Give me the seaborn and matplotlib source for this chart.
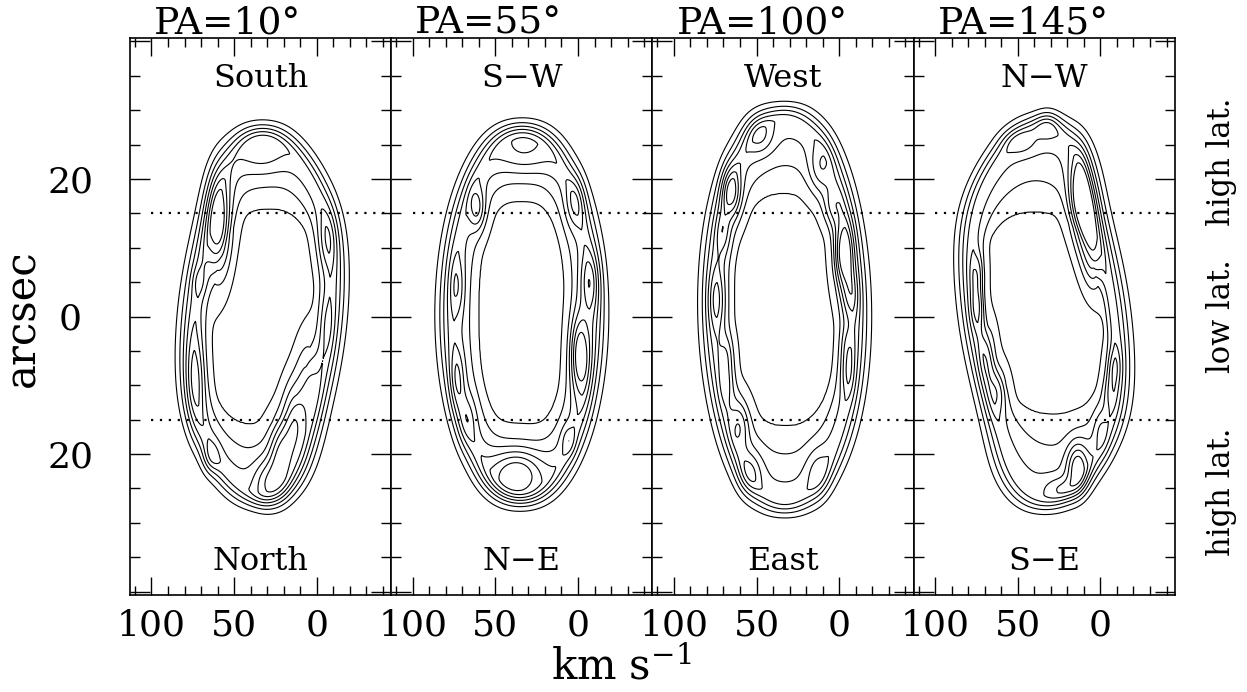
import numpy as np
import matplotlib
matplotlib.use("Agg")
import matplotlib.pyplot as plt
import seaborn as sns
import pandas as pd

# ---------------- data ----------------
pa_titles = ["PA=10°", "PA=55°", "PA=100°", "PA=145°"]
top_labels = ["South", "S\u2212W", "West", "N\u2212W"]
bottom_labels = ["North", "N\u2212E", "East", "S\u2212E"]
side_labels = ["high lat.", "low lat.", "high lat."]
side_label_y = [22.5, 0.0, -25.5]

x_major = [100, 50, 0]
x_major_labels = ["100", "50", "0"]
y_major = [-40, -20, 0, 20, 40]
y_major_labels = ["", "20", "0", "20", ""]
lat_bounds = [15, -15]
dotted_x = [100, -45]

contour_levels = [0.1, 0.2, 0.3, 0.4, 0.5, 0.6, 0.7]

# shell (ridge) of each position-velocity diagram
shell_v0 = [33, 34, 33, 34]          # km/s
shell_y0 = [0.0, 0.3, 1.0, 0.5]      # arcsec
shell_a = [40, 41, 41, 41]           # km/s
shell_b = [25.5, 25.5, 27.5, 26.5]   # arcsec
shell_shear = [-0.35, 0.0, 0.05, 0.5]
hole_a = [31, 26, 30.7, 35]
hole_b = [15.7, 16.8, 16.9, 14.7]
ridge_level = 0.46
hole_level = 0.2
floor_level = 0.14

# knots: (velocity, offset, amplitude, sigma_v, sigma_y)
knots_pa10 = [(33, 24, 0.16, 10, 2.5), (59, 13, 0.45, 5, 5), (73, -9, 0.22, 4, 4.5),
              (71, 5, 0.10, 3, 1.5), (-6, 11, 0.18, 4, 3), (-6, -1, 0.10, 3, 3),
              (14, -15, 0.35, 5, 4), (22, -20, 0.35, 5, 3.5), (30, -24, 0.25, 6, 2.5),
              (6, -9, 0.20, 5, 4), (64, -20.5, 0.16, 3.5, 1.6)]
knots_pa55 = [(33, 24, 0.20, 12, 2.5), (37, -22.7, 0.42, 11, 2.5), (61, 15.7, 0.28, 3.5, 2.2),
              (2, 16.5, 0.20, 4, 2.5), (-7, 5, 0.24, 4, 3), (-1, -5.5, 0.45, 4, 4),
              (73, 4.3, 0.18, 3, 3), (73, -9, 0.18, 3, 3), (67, -15, 0.14, 4, 2.5),
              (6, -18, 0.14, 3, 1.5)]
knots_pa100 = [(48, 26.3, 0.20, 6, 2), (11.5, 21.5, 0.20, 5, 2.5), (65, 18, 0.35, 4, 2.5),
               (4, 16, 0.18, 4, 2), (-2.4, 9, 0.45, 4, 3.5), (-6.7, 3, 0.20, 3.5, 2.5),
               (74, 2.4, 0.20, 3.5, 3), (70, 12, 0.14, 3, 2), (68, -5.4, 0.14, 3, 2),
               (68, -9.6, 0.14, 3, 2.2), (60, -15.7, 0.22, 4, 2.5), (54, -22.7, 0.20, 5, 2.2),
               (-5, -8, 0.18, 3, 2.5), (-5, -4, 0.12, 3, 2), (13, -22.7, 0.14, 5, 2.5)]
knots_pa145 = [(32, 28, 0.16, 5, 1.5), (48.5, 25.3, 0.14, 7, 1.3), (13, 18, 0.42, 4.5, 4),
               (8, 13, 0.38, 4.5, 4), (4, 8, 0.22, 4, 3), (74, 6.3, 0.22, 3, 2.2),
               (74, 1.4, 0.22, 3, 2.2), (68, -5.3, 0.20, 3.5, 3), (62, -10.6, 0.22, 4, 2.5),
               (-8, -7.3, 0.18, 3, 2), (-6, -11, 0.14, 3, 2), (0, -16.5, 0.12, 3, 2),
               (14, -21.8, 0.38, 4.5, 2.5), (24, -25, 0.16, 7, 1.2)]
panel_knots = [knots_pa10, knots_pa55, knots_pa100, knots_pa145]

XLIM = (113, -45)
YLIM = (-40.5, 40.5)

# ---------------- style ----------------
sns.set_style("ticks")
plt.rcParams["font.family"] = ["DejaVu Serif", "DejaVu Sans"]
plt.rcParams["mathtext.fontset"] = "dejavuserif"
for k in ["axes.edgecolor", "xtick.color", "ytick.color", "text.color", "axes.labelcolor"]:
    plt.rcParams[k] = "black"

W_PX, H_PX = 1247, 692
fig = plt.figure(figsize=(W_PX / 100, H_PX / 100), dpi=100)

ax_left0, ax_w, ax_top, ax_bot = 130, 261.2, 38, 595
PXV = ax_w / (XLIM[0] - XLIM[1])
PXY = (ax_bot - ax_top) / (YLIM[1] - YLIM[0])
SIG_OUT = 11.0

vgrid = np.linspace(XLIM[1], XLIM[0], 420)
ygrid = np.linspace(YLIM[0], YLIM[1], 420)
V, Y = np.meshgrid(vgrid, ygrid)


def field(i):
    yy = Y - shell_y0[i]
    b = shell_b[i]
    vc = shell_v0[i] + shell_shear[i] * yy * np.exp(-(yy / (0.8 * b)) ** 4)
    dv = V - vc
    U = dv / shell_a[i]
    Wn = yy / b
    r = np.sqrt(U ** 2 + Wn ** 2)
    Apx = shell_a[i] * PXV
    Bpx = b * PXY
    grad = np.sqrt((U / Apx) ** 2 + (Wn / Bpx) ** 2) / np.maximum(r, 1e-6)
    d = (r - 1) / np.maximum(grad, 1e-9)
    n = 2.5
    h = (np.abs(dv / hole_a[i]) ** n + np.abs(yy / hole_b[i]) ** n) ** (1 / n)
    A = ridge_level
    outer = A * np.exp(-0.5 * (d / SIG_OUT) ** 2)
    t = np.clip(r * (h - 1) / np.maximum(h - r, 1e-6), 0, 1)
    mid = hole_level + (A - hole_level) * t
    inner = hole_level - (hole_level - floor_level) * (1 - np.clip(h, 0, 1) ** 2)
    I = np.where(r >= 1, outer, np.where(h >= 1, mid, inner))
    for (kv, ky, amp, sv, sy) in panel_knots[i]:
        I = I + amp * np.exp(-0.5 * ((V - kv) / sv) ** 2 - 0.5 * ((Y - ky) / sy) ** 2)
    return I


axes = []
for i in range(4):
    left = (ax_left0 + i * ax_w) / W_PX
    ax = fig.add_axes([left, (H_PX - ax_bot) / H_PX, ax_w / W_PX, (ax_bot - ax_top) / H_PX])
    axes.append(ax)
    I = field(i)
    ax.contour(V, Y, I, levels=contour_levels, colors="black", linewidths=0.8)
    for yb in lat_bounds:
        df = pd.DataFrame({"v": dotted_x, "y": [yb, yb]})
        sns.lineplot(data=df, x="v", y="y", ax=ax, color="black", sort=False,
                     linestyle=(0, (1, 3)), linewidth=1.6)
    ax.set_xlim(*XLIM)
    ax.set_ylim(*YLIM)
    ax.set_xlabel("")
    ax.set_ylabel("")
    ax.set_xticks(x_major)
    ax.set_xticklabels(x_major_labels)
    ax.set_xticks(np.arange(-40, 111, 10), minor=True)
    ax.set_yticks(y_major)
    ax.set_yticks(np.arange(-40, 41, 5), minor=True)
    ax.tick_params(which="both", direction="in", top=True, right=True, bottom=True, left=True,
                   width=1.0, color="black")
    ax.tick_params(axis="y", which="major", length=14.4)
    ax.tick_params(axis="y", which="minor", length=7.2)
    ax.tick_params(axis="x", which="major", length=13, labelsize=26, pad=10)
    ax.tick_params(axis="x", which="minor", length=6.5)
    if i == 0:
        ax.set_yticklabels(y_major_labels)
        ax.tick_params(axis="y", which="major", labelsize=26, pad=43)
        for lbl in ax.get_yticklabels():
            lbl.set_horizontalalignment("center")
    else:
        ax.set_yticklabels([])
        ax.tick_params(axis="y", labelleft=False)
    for sp in ax.spines.values():
        sp.set_linewidth(1.2)
        sp.set_color("black")
    ax.text(24 / ax_w, 1 + 5 / (ax_bot - ax_top), pa_titles[i], transform=ax.transAxes,
            ha="left", va="baseline", fontsize=27)
    ax.text(0.5, 33.4, top_labels[i], transform=ax.get_yaxis_transform(),
            ha="center", va="baseline", fontsize=23)
    ax.text(0.5, -36.9, bottom_labels[i], transform=ax.get_yaxis_transform(),
            ha="center", va="baseline", fontsize=23)

last = axes[-1]
for lab, yv in zip(side_labels, side_label_y):
    last.text((1222 - (ax_left0 + 3 * ax_w)) / ax_w, yv, lab, transform=last.get_yaxis_transform(),
              rotation=90, ha="center", va="center", fontsize=22)

fig.text(22 / W_PX, 1 - 318 / H_PX, "arcsec", rotation=90, ha="center", va="center", fontsize=30)
fig.text(621 / W_PX, 1 - 668 / H_PX, r"km s$^{-1}$", ha="center", va="center", fontsize=30)

fig.savefig("out.png", dpi=100)
